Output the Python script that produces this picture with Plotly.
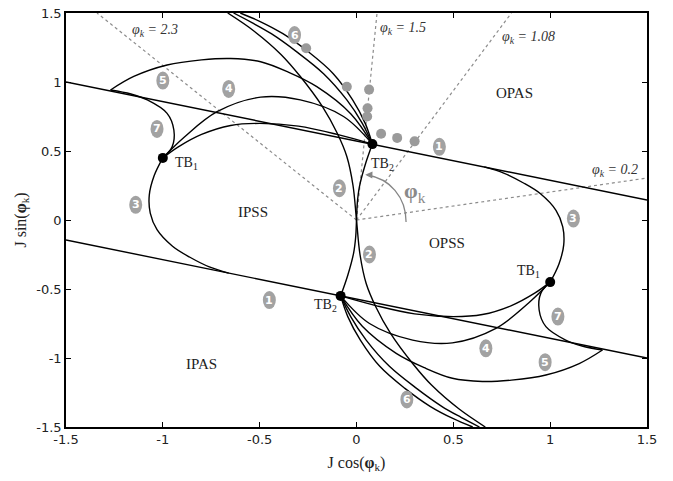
import plotly.graph_objects as go

# straight lines (curve 1)
line_up_x = [-1.5, 1.5]
line_up_y = [1.0, 0.145]
line_lo_x = [-1.5, 1.5]
line_lo_y = [-0.145, -1.0]

# curve 2 : big arc through origin
arc_x = [-0.665, -0.53, -0.39, -0.29, -0.175, -0.10, -0.05, -0.018, 0.0, 0.018, 0.05, 0.10, 0.175, 0.29, 0.39, 0.53, 0.665]
arc_y = [1.5, 1.37, 1.2, 1.04, 0.82, 0.63, 0.46, 0.25, 0.0, -0.25, -0.46, -0.63, -0.82, -1.04, -1.2, -1.37, -1.5]
# curve 2 : TB2 -> origin -> TB2
c2_x = [0.082, 0.045, 0.015, 0.004, 0.0, -0.004, -0.015, -0.045, -0.082]
c2_y = [0.55, 0.40, 0.24, 0.12, 0.0, -0.12, -0.24, -0.40, -0.55]

# curve 3
c3a_x = [-1.0, -1.045, -1.07, -1.065, -1.03, -0.95, -0.86, -0.76, -0.66]
c3a_y = [0.45, 0.32, 0.18, 0.05, -0.07, -0.19, -0.27, -0.34, -0.385]
c3b_x = [1.0, 1.045, 1.07, 1.065, 1.03, 0.95, 0.86, 0.76, 0.66]
c3b_y = [-0.45, -0.32, -0.18, -0.05, 0.07, 0.19, 0.27, 0.34, 0.385]

# lower/upper boundary of the stable loops (TB1 -> TB2)
ua_x = [-1.0, -0.92, -0.80, -0.65, -0.5, -0.3, -0.1, 0.082]
ua_y = [0.45, 0.53, 0.62, 0.685, 0.70, 0.68, 0.62, 0.55]
ub_x = [1.0, 0.92, 0.80, 0.65, 0.5, 0.3, 0.1, -0.082]
ub_y = [-0.45, -0.53, -0.62, -0.685, -0.70, -0.68, -0.62, -0.55]

# curve 4
c4a_x = [-1.0, -0.89, -0.72, -0.495, -0.29, -0.067, 0.082]
c4a_y = [0.45, 0.60, 0.785, 0.89, 0.87, 0.75, 0.55]
c4b_x = [1.0, 0.89, 0.72, 0.495, 0.29, 0.067, -0.082]
c4b_y = [-0.45, -0.60, -0.785, -0.89, -0.87, -0.75, -0.55]

# curve 5
c5a_x = [0.082, -0.03, -0.205, -0.35, -0.495, -0.65, -0.80, -0.978, -1.15, -1.27]
c5a_y = [0.55, 0.77, 0.966, 1.07, 1.147, 1.17, 1.16, 1.123, 1.04, 0.942]
c5b_x = [-0.082, 0.03, 0.205, 0.35, 0.495, 0.65, 0.80, 0.978, 1.15, 1.27]
c5b_y = [-0.55, -0.77, -0.966, -1.07, -1.147, -1.17, -1.16, -1.123, -1.04, -0.942]

# curve 6 (two branches each side)
c6a_x = [0.082, 0.045, -0.02, -0.12, -0.25, -0.38, -0.50, -0.60]
c6a_y = [0.55, 0.70, 0.87, 1.06, 1.22, 1.35, 1.44, 1.5]
c6b_x = [0.082, 0.03, -0.05, -0.17, -0.31, -0.44, -0.54, -0.635]
c6b_y = [0.55, 0.70, 0.87, 1.06, 1.22, 1.35, 1.43, 1.5]
c6c_x = [-0.082, -0.045, 0.02, 0.12, 0.25, 0.38, 0.50, 0.60]
c6c_y = [-0.55, -0.70, -0.87, -1.06, -1.22, -1.35, -1.44, -1.5]
c6d_x = [-0.082, -0.03, 0.05, 0.17, 0.31, 0.44, 0.54, 0.635]
c6d_y = [-0.55, -0.70, -0.87, -1.06, -1.22, -1.35, -1.43, -1.5]

# curve 7
c7a_x = [-1.0, -0.952, -0.943, -0.978, -1.08, -1.165, -1.27]
c7a_y = [0.45, 0.53, 0.652, 0.773, 0.87, 0.913, 0.942]
c7b_x = [1.0, 0.952, 0.943, 0.978, 1.08, 1.165, 1.27]
c7b_y = [-0.45, -0.53, -0.652, -0.773, -0.87, -0.913, -0.942]

# grey dots
dots_x = [-0.26, -0.05, 0.065, 0.057, 0.055, 0.127, 0.21, 0.30]
dots_y = [1.245, 0.965, 0.945, 0.81, 0.75, 0.625, 0.595, 0.57]

# Takens-Bogdanov points
tb_x = [-1.0, 1.0, 0.082, -0.082]
tb_y = [0.45, -0.45, 0.55, -0.55]

# dashed rays phi_k = 2.3, 1.5, 1.08, 0.2
ray_end_x = [-1.34, 0.106, 0.80, 1.5]
ray_end_y = [1.5, 1.5, 1.5, 0.304]
ray_labels = ["2.3", "1.5", "1.08", "0.2"]
ray_label_x = [-1.04, 0.24, 0.89, 1.335]
ray_label_y = [1.37, 1.39, 1.32, 0.36]

# numbered curve labels
num_text = ["1", "1", "2", "2", "3", "3", "4", "4", "5", "5", "6", "6", "7", "7"]
num_x = [0.428, -0.45, -0.088, 0.067, -1.14, 1.12, -0.66, 0.668, -1.0, 0.974, -0.32, 0.26, -1.03, 1.04]
num_y = [0.53, -0.58, 0.23, -0.25, 0.11, 0.01, 0.95, -0.93, 1.01, -1.03, 1.34, -1.30, 0.66, -0.70]

# region labels
reg_text = ["OPAS", "IPSS", "OPSS", "IPAS"]
reg_x = [0.815, -0.536, 0.469, -0.80]
reg_y = [0.92, 0.058, -0.167, -1.04]

fig = go.Figure()

for i in range(len(ray_end_x)):
    fig.add_trace(go.Scatter(x=[0, ray_end_x[i]], y=[0, ray_end_y[i]], mode='lines',
                             line=dict(color='#8c8c8c', width=1.2, dash='3px,3px')))

black = dict(color='black', width=1.4)
fig.add_trace(go.Scatter(x=line_up_x, y=line_up_y, mode='lines', line=black))
fig.add_trace(go.Scatter(x=line_lo_x, y=line_lo_y, mode='lines', line=black))

curves = [(arc_x, arc_y), (c2_x, c2_y), (c3a_x, c3a_y), (c3b_x, c3b_y),
          (ua_x, ua_y), (ub_x, ub_y), (c4a_x, c4a_y), (c4b_x, c4b_y),
          (c5a_x, c5a_y), (c5b_x, c5b_y), (c6a_x, c6a_y), (c6b_x, c6b_y),
          (c6c_x, c6c_y), (c6d_x, c6d_y), (c7a_x, c7a_y), (c7b_x, c7b_y)]
for cx, cy in curves:
    fig.add_trace(go.Scatter(x=cx, y=cy, mode='lines',
                             line=dict(color='black', width=1.4, shape='spline', smoothing=1.0)))

fig.add_trace(go.Scatter(x=dots_x, y=dots_y, mode='markers',
                         marker=dict(color='#9a9a9a', size=10)))
fig.add_trace(go.Scatter(x=tb_x, y=tb_y, mode='markers',
                         marker=dict(color='black', size=10)))

shapes = []
# arc for phi_k
shapes.append(dict(type='path', path='M 0.256,-0.015 C 0.256,0.17 0.17,0.30 0.055,0.326',
                   line=dict(color='#858585', width=1.3)))
for i in range(len(num_text)):
    shapes.append(dict(type='circle', xref='x', yref='y', xsizemode='pixel', ysizemode='pixel',
                       xanchor=num_x[i], yanchor=num_y[i], x0=-6.5, x1=6.5, y0=-9, y1=9,
                       fillcolor='#a2a2a2', line=dict(width=0), layer='above'))

annotations = []
annotations.append(dict(x=0.045, y=0.327, ax=0.08, ay=0.326, axref='x', ayref='y',
                        xref='x', yref='y', text='', showarrow=True, arrowhead=2,
                        arrowsize=1.2, arrowwidth=1.2, arrowcolor='#858585'))
annotations.append(dict(x=0.30, y=0.20, text='<b>φ</b><sub>k</sub>', showarrow=False,
                        font=dict(family='Liberation Serif', size=22, color='#8a8a8a')))
for i in range(len(num_text)):
    annotations.append(dict(x=num_x[i], y=num_y[i], text='<b>' + num_text[i] + '</b>', showarrow=False,
                            font=dict(family='DejaVu Sans', size=11, color='white')))
for i in range(len(reg_text)):
    annotations.append(dict(x=reg_x[i], y=reg_y[i], text=reg_text[i], showarrow=False,
                            font=dict(family='Liberation Serif', size=15, color='#222')))
for i in range(len(ray_labels)):
    annotations.append(dict(x=ray_label_x[i], y=ray_label_y[i],
                            text='<i>φ<sub>k</sub> = ' + ray_labels[i] + '</i>', showarrow=False,
                            font=dict(family='Liberation Serif', size=14, color='#333')))
tb_font = dict(family='Liberation Serif', size=14, color='#222')
annotations.append(dict(x=-0.95, y=0.41, text='TB<sub>1</sub>', showarrow=False, xanchor='left', font=tb_font))
annotations.append(dict(x=0.96, y=-0.37, text='TB<sub>1</sub>', showarrow=False, xanchor='right', font=tb_font))
annotations.append(dict(x=0.065, y=0.40, text='TB<sub>2</sub>', showarrow=False, xanchor='left', font=tb_font))
annotations.append(dict(x=-0.23, y=-0.62, text='TB<sub>2</sub>', showarrow=False, xanchor='left', font=tb_font))

axis_common = dict(range=[-1.5, 1.5], tickmode='array', tickvals=[-1.5, -1, -0.5, 0, 0.5, 1, 1.5],
                   ticktext=['-1.5', '-1', '-0.5', '0', '0.5', '1', '1.5'],
                   ticks='inside', ticklen=5, tickwidth=1.2, tickcolor='black',
                   showline=True, linecolor='black', linewidth=1.5, mirror='ticks',
                   showgrid=False, zeroline=False, automargin=False, ticklabeloverflow='allow',
                   tickfont=dict(family='DejaVu Sans', size=13, color='#222'))

# page body adds an 8px offset, so the figure is sized to fit inside the window
fig.update_layout(
    width=665, height=473,
    margin=dict(l=58, r=26, t=5, b=54),
    plot_bgcolor='white', paper_bgcolor='white',
    showlegend=False,
    shapes=shapes, annotations=annotations,
    xaxis=dict(axis_common, title=dict(text='J cos(<b>φ</b><sub>k</sub>)', standoff=10,
                                       font=dict(family='Liberation Serif', size=16, color='#222'))),
    yaxis=dict(axis_common, title=dict(text='J sin(<b>φ</b><sub>k</sub>)', standoff=6,
                                       font=dict(family='Liberation Serif', size=16, color='#222'))),
)

fig.write_html("out.html")
